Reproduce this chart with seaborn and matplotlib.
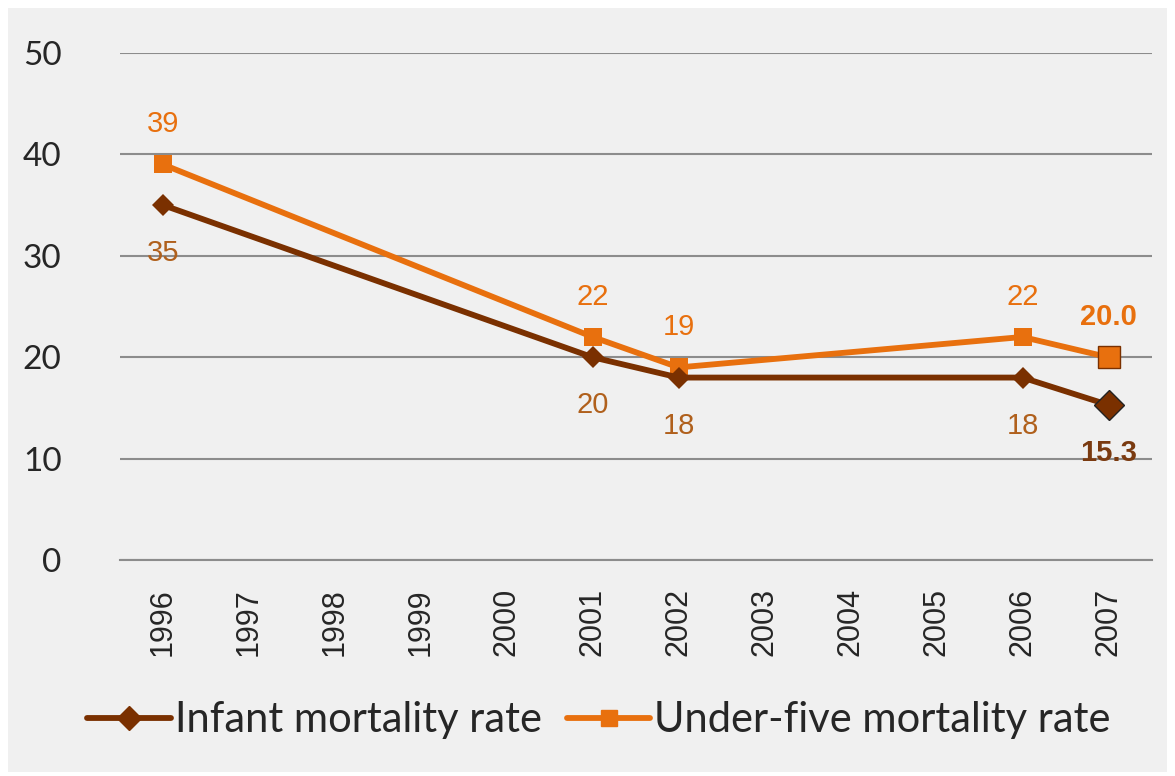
import matplotlib.pyplot as plt
import seaborn as sns
from matplotlib.lines import Line2D
from matplotlib.patches import Rectangle

# Data
years_all = list(range(1996, 2008))
years = [1996, 2001, 2002, 2006, 2007]
infant = [35, 20, 18, 18, 15.3]
under_five = [39, 22, 19, 22, 20.0]
infant_labels = ['35', '20', '18', '18', '15.3']
under_five_labels = ['39', '22', '19', '22', '20.0']

bg = '#f0f0f0'
c_infant = '#7a3000'
c_under = '#e8700e'
c_infant_lbl = '#b0601c'

sns.set_style('white')
plt.rcParams['font.family'] = ['Liberation Sans', 'DejaVu Sans']

fig = plt.figure(figsize=(11.75, 7.76), dpi=100)
fig.patch.set_facecolor('white')
fig.patches.append(Rectangle((0.007, 0.005), 0.986, 0.985, transform=fig.transFigure,
                             facecolor=bg, edgecolor='none', zorder=-10))
ax = fig.add_axes([0.102, 0.278, 0.878, 0.654])
ax.set_facecolor(bg)

sns.lineplot(x=years, y=under_five, ax=ax, color=c_under, linewidth=4.2,
             marker='s', markersize=13, markeredgewidth=0, zorder=3)
sns.lineplot(x=years, y=infant, ax=ax, color=c_infant, linewidth=4.2,
             marker='D', markersize=11, markeredgewidth=0, zorder=4)
# highlighted last points
ax.plot(years[-1], under_five[-1], marker='s', markersize=16, color=c_under,
        markeredgecolor='#7a3000', markeredgewidth=1, zorder=5)
ax.plot(years[-1], infant[-1], marker='D', markersize=15, color=c_infant,
        markeredgecolor='#222222', markeredgewidth=1, zorder=5)

for i, (x, y) in enumerate(zip(years, under_five)):
    last = i == len(years) - 1
    ax.annotate(under_five_labels[i], (x, y), xytext=(0, 40), textcoords='offset pixels',
                ha='center', va='center', fontsize=21, color=c_under,
                fontweight='bold' if last else 'normal')
for i, (x, y) in enumerate(zip(years, infant)):
    last = i == len(years) - 1
    ax.annotate(infant_labels[i], (x, y), xytext=(0, -48), textcoords='offset pixels',
                ha='center', va='center', fontsize=21,
                color='#7a3a10' if last else c_infant_lbl,
                fontweight='bold' if last else 'normal')

ax.set_ylim(0, 50)
ax.set_yticks(range(0, 51, 10))
ax.set_xlim(1995.5, 2007.5)
ax.set_xticks(years_all)
ax.set_xticklabels([str(y) for y in years_all], rotation=90, fontsize=22)
ax.set_xticks([y + 0.5 for y in range(1995, 2008)], minor=True)
ax.tick_params(axis='x', which='major', length=0, pad=20)
ax.tick_params(axis='x', which='minor', length=9, width=1.5, color='#8c8c8c')
ax.tick_params(axis='y', length=0, pad=42, labelsize=24)
for lbl in ax.get_yticklabels():
    lbl.set_family(['Lato', 'DejaVu Sans'])
ax.grid(axis='y', color='#8c8c8c', linewidth=1.5)
ax.set_axisbelow(True)
for s in ['top', 'right', 'left']:
    ax.spines[s].set_visible(False)
ax.spines['bottom'].set_color('#8c8c8c')
ax.spines['bottom'].set_linewidth(1.5)

handles = [
    Line2D([0], [0], color=c_infant, linewidth=4.2, marker='D', markersize=12),
    Line2D([0], [0], color=c_under, linewidth=4.2, marker='s', markersize=12),
]
fig.legend(handles, ['Infant mortality rate', 'Under-five mortality rate'],
           loc='center', bbox_to_anchor=(0.51, 0.072), ncol=2, frameon=False,
           prop={'family': 'Lato', 'size': 30}, handlelength=2.0, handletextpad=0.1,
           columnspacing=0.6)

fig.savefig('out.png', dpi=100, facecolor='white')
